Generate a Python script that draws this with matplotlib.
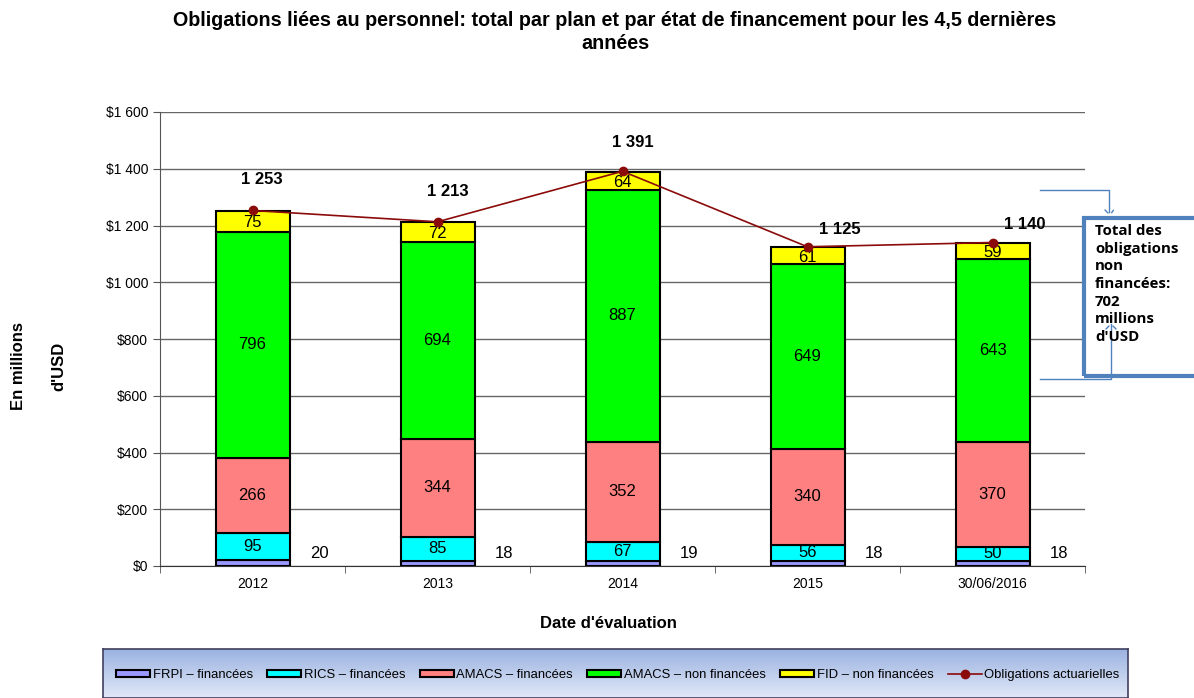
#!/usr/bin/env python3
import numpy as np
import matplotlib
matplotlib.use('Agg')
import matplotlib.pyplot as pl
from matplotlib.patches import Rectangle, FancyArrowPatch
from matplotlib.lines import Line2D

pl.rcParams['font.family'] = ['Liberation Sans', 'DejaVu Sans']

# Data
years = ['2012', '2013', '2014', '2015', '30/06/2016']
frpi = [20, 18, 19, 18, 18]
rics = [95, 85, 67, 56, 50]
amacs_fin = [266, 344, 352, 340, 370]
amacs_non = [796, 694, 887, 649, 643]
fid_non = [75, 72, 64, 61, 59]
total = [1253, 1213, 1391, 1125, 1140]

series_names = ['FRPI – financées', 'RICS – financées', 'AMACS – financées',
                'AMACS – non financées', 'FID – non financées']
colors = ['#9999FF', '#00FFFF', '#FF8080', '#00FF00', '#FFFF00']
line_color = '#8B0A0A'


def fmt_money(v, pos=None):
    v = int(round(v))
    if v >= 1000:
        return '$%d %03d' % (v // 1000, v % 1000)
    return '$%d' % v


def fmt_num(v):
    if v >= 1000:
        return '%d %03d' % (v // 1000, v % 1000)
    return '%d' % v


#######################################################
def plot():
    fig = pl.figure(figsize=(11.94, 6.98), dpi=100)
    ax = fig.add_axes([160 / 1194, 1 - 566 / 698, 925 / 1194, 454 / 698])

    x = np.arange(len(years))
    width = 0.4
    series = [frpi, rics, amacs_fin, amacs_non, fid_non]
    bottom = np.zeros(len(years))
    handles = []
    for i, vals in enumerate(series):
        vals = np.array(vals, dtype=float)
        b = ax.bar(x, vals, width, bottom=bottom, color=colors[i],
                   edgecolor='black', linewidth=1.5, zorder=3)
        handles.append(b)
        if i == 0:
            # FRPI labels beside the bar
            for xi, v in zip(x, vals):
                ax.text(xi + 0.36, 45, '%d' % v, ha='center', va='center',
                        fontsize=12)
        else:
            for xi, bt, v in zip(x, bottom, vals):
                yy = bt + v / 2 if i < 4 else bt + v / 2 - 5
                ax.text(xi, yy, '%d' % v, ha='center', va='center',
                        fontsize=12, zorder=5)
        bottom = bottom + vals

    l1, = ax.plot(x, total, '-o', color=line_color, markersize=6,
                  linewidth=1.2, zorder=6)
    handles.append(l1)
    # label offsets in pixels (dx, dy)
    offsets = [(9, 31), (10, 30), (10, 29), (32, 17), (32, 18)]
    for xi, v, off in zip(x, total, offsets):
        ax.annotate(fmt_num(v), (xi, v),
                    xytext=(off[0] * 0.72, off[1] * 0.72),
                    textcoords='offset points', ha='center', va='center',
                    fontsize=12, fontweight='bold', zorder=7)

    ax.set_xlim(-0.5, len(years) - 0.5)
    ax.set_ylim(0, 1600)
    ax.set_yticks(np.arange(0, 1601, 200))
    ax.yaxis.set_major_formatter(matplotlib.ticker.FuncFormatter(fmt_money))
    ax.set_xticks(x)
    ax.set_xticklabels(years)
    ax.set_xticks(np.arange(-0.5, len(years), 1), minor=True)
    ax.tick_params(axis='x', which='major', length=0, labelsize=10, pad=8)
    ax.tick_params(axis='x', which='minor', length=5, color='#555555')
    ax.tick_params(axis='y', labelsize=10, length=5, color='#555555')
    ax.grid(axis='y', color='#666666', linewidth=1, zorder=0)
    for s in ['top', 'right']:
        ax.spines[s].set_visible(False)
    ax.spines['left'].set_color('#555555')
    ax.spines['bottom'].set_color('#333333')

    fig.text(615 / 1194, 1 - 32 / 698, 'Obligations liées au personnel: total par plan et par '
             'état de financement pour les 4,5 dernières\nannées',
             ha='center', va='center', fontsize=14.2, fontweight='bold',
             linespacing=1.25)
    fig.text(608 / 1194, 1 - 623 / 698, "Date d'évaluation", ha='center',
             va='center', fontsize=12, fontweight='bold')
    fig.text(19 / 1194, 1 - 366 / 698, 'En millions', rotation=90, ha='center',
             va='center', fontsize=12, fontweight='bold')
    fig.text(59 / 1194, 1 - 366 / 698, "d'USD", rotation=90, ha='center',
             va='center', fontsize=12, fontweight='bold')

    # Annotation box on the right
    fig.patches.append(Rectangle((1084 / 1194, 1 - 376 / 698), 120 / 1194,
                                 158 / 698, transform=fig.transFigure,
                                 fill=False, edgecolor='#4F81BD', linewidth=3))
    fig.text(1095 / 1194, 1 - 224 / 698,
             "Total des\nobligations\nnon\nfinancées:\n702\nmillions\nd'USD",
             ha='left', va='top', fontsize=10.8, fontweight='bold',
             linespacing=1.33, family=['Open Sans', 'DejaVu Sans'])
    tr = fig.transFigure
    fig.lines.append(Line2D(
        [1040 / 1194, 1109 / 1194, 1109 / 1194],
        [1 - 190 / 698, 1 - 190 / 698, 1 - 212 / 698],
        transform=tr, color='#4F81BD', linewidth=1))
    for dx in (-6, 6):
        fig.patches.append(FancyArrowPatch(
            ((1109 + dx) / 1194, 1 - 208 / 698), (1110 / 1194, 1 - 215 / 698),
            transform=tr, arrowstyle='-', color='#4F81BD', linewidth=1))
    fig.lines.append(Line2D(
        [1040 / 1194, 1111 / 1194, 1111 / 1194],
        [1 - 379 / 698, 1 - 379 / 698, 1 - 324 / 698],
        transform=tr, color='#4F81BD', linewidth=1))
    for dx in (-7, 7):
        fig.patches.append(FancyArrowPatch(
            ((1111 + dx) / 1194, 1 - 331 / 698), (1111 / 1194, 1 - 324 / 698),
            transform=tr, arrowstyle='-', color='#4F81BD', linewidth=1))

    # Legend with gradient background
    lax = fig.add_axes([103 / 1194, 0, 1025 / 1194, 49 / 698])
    grad = np.linspace(0, 1, 50).reshape(-1, 1)
    top_c = np.array([0.61, 0.70, 0.88])
    bot_c = np.array([0.88, 0.91, 0.97])
    img = top_c[None, None, :] * (1 - grad[:, :, None]) + bot_c[None, None, :] * grad[:, :, None]
    lax.imshow(img, aspect='auto', extent=[0, 1, 0, 1])
    lax.set_xticks([])
    lax.set_yticks([])
    for s in lax.spines.values():
        s.set_color('#404060')
        s.set_linewidth(1.2)
    fig.legend(handles, series_names + ['Obligations actuarielles'],
               loc='center', bbox_to_anchor=(618 / 1194, 1 - 675 / 698),
               ncol=6, frameon=False, fontsize=9.4, handlelength=2.6,
               handleheight=0.5, handletextpad=0.2, columnspacing=1.1)

    pl.savefig('out.png', dpi=100)
    pl.close()


#######################################################
if __name__ == '__main__':
    plot()
